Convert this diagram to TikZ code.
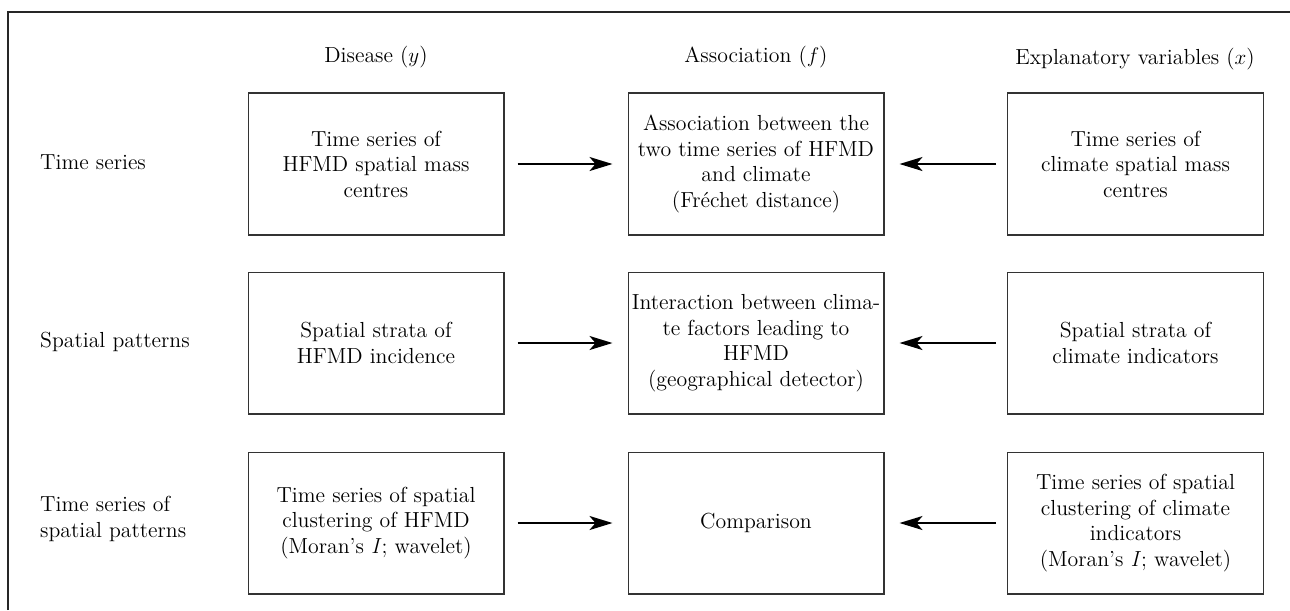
\documentclass[tikz,border=0pt]{standalone}
\usepackage{tikz}
\usetikzlibrary{arrows.meta}
\tikzset{
    box/.style={draw=black!80, line width=0.6pt, minimum width=5.12cm, minimum height=2.84cm, align=center, inner sep=2pt},
    link/.style={line width=1.2pt, -{Stealth[length=0.46cm, width=0.28cm, inset=0.12cm]}},
    rowlabel/.style={anchor=west, align=left}
}

\begin{document}
\begin{tikzpicture}[x=0.02cm, y=-0.02cm, font=\fontsize{12.4}{14.5}\selectfont]
\useasboundingbox (0,0) rectangle (1290,610);
\draw[line width=0.8pt, black!85] (8,610) -- (8,12) -- (1290,12);

% column heads
\node (hy) at (376,57) {Disease ($y$)};
\node (hf) at (756,57) {Association ($f$)};
\node (hx) at (1135,59) {Explanatory variables ($x$)};

% row labels
\node[rowlabel] (r1) at (34,162) {Time series};
\node[rowlabel] (r2) at (34,342) {Spatial patterns};
\node[rowlabel] (r3) at (34,519) {Time series of\\spatial patterns};

% disease column
\node[box] (y1) at (376,164) {Time series of\\HFMD spatial mass\\centres};
\node[box] (y2) at (376,343) {Spatial strata of\\HFMD incidence};
\node[box] (y3) at (376,523) {Time series of spatial\\clustering of HFMD\\(Moran's \textit{I}; wavelet)};

% association column
\node[box] (f1) at (756,164) {Association between the\\two time series of HFMD\\and climate\\(Fréchet distance)};
\node[box] (f2) at (756,343) {Interaction between clima-\\te factors leading to\\HFMD\\(geographical detector)};
\node[box] (f3) at (756,523) {Comparison};

% explanatory column
\node[box] (x1) at (1135.5,164) {Time series of\\climate spatial mass\\centres};
\node[box] (x2) at (1135.5,343) {Spatial strata of\\climate indicators};
\node[box] (x3) at (1135.5,523) {Time series of spatial\\clustering of climate\\indicators\\(Moran's \textit{I}; wavelet)};

% arrows into the middle
\foreach \r in {1,2,3}{
  \draw[link, shorten <=0.26cm, shorten >=0.3cm] (y\r) -- (f\r);
  \draw[link, shorten <=0.22cm, shorten >=0.3cm] (x\r) -- (f\r);
}
\end{tikzpicture}
\end{document}
